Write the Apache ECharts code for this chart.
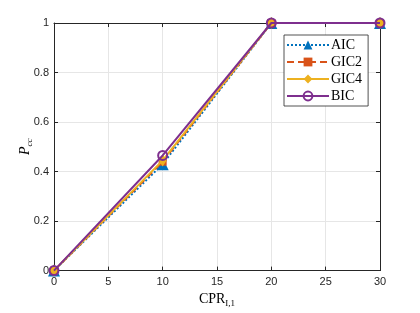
<!DOCTYPE html>
<html><head><meta charset="utf-8">
<script src="https://cdn.jsdelivr.net/npm/echarts@6/dist/echarts.min.js"></script>
<style>html,body{margin:0;padding:0;background:#fff}#c{width:420px;height:313px}</style>
</head><body><div id="c"></div>
<script>
var xValues = [0, 10, 20, 30];
var aic  = [0, 0.43, 1, 1];
var gic2 = [0, 0.44, 1, 1];
var gic4 = [0, 0.445, 1, 1];
var bic  = [0, 0.465, 1, 1];
var xTicks = [0, 5, 10, 15, 20, 25, 30];
var yTicks = [0, 0.2, 0.4, 0.6, 0.8, 1];

function pairs(v){ return xValues.map(function(x,i){ return [x, v[i]]; }); }
var tickFont = {fontFamily:'Liberation Sans, Arial, sans-serif', fontSize:11, color:'#262626'};
var serif = 'Liberation Serif, DejaVu Serif, serif';
var chart = echarts.init(document.getElementById('c'), null, {renderer:'canvas'});
var axisLineStyle = {color:'#262626', width:1};
chart.setOption({
  animation:false,
  backgroundColor:'#fff',
  grid:{left:54, right:40, top:23, bottom:34, show:false},
  legend:{
    show:true, orient:'vertical', left:284, top:35,
    itemWidth:42, itemHeight:11, itemGap:3,
    backgroundColor:'#fff', borderColor:'#262626', borderWidth:0.8, borderRadius:0,
    padding:[3,6,3,2],
    textStyle:{fontFamily:serif, fontSize:14, color:'#000', padding:[0,0,0,-3]},
    data:['AIC','GIC2','GIC4','BIC']
  },
  xAxis:[{
    type:'value', min:0, max:30, interval:5, position:'bottom',
    name:'{a|CPR}{b|I,1}', nameLocation:'middle', nameGap:17,
    nameTextStyle:{rich:{a:{fontFamily:serif, fontSize:14, color:'#000'}, b:{fontFamily:serif, fontSize:9, color:'#000', padding:[8,0,0,0]}}},
    axisLine:{show:true, lineStyle:axisLineStyle},
    axisTick:{show:true, inside:true, length:4, lineStyle:axisLineStyle},
    axisLabel:Object.assign({margin:6}, tickFont),
    splitLine:{show:true, lineStyle:{color:'#e6e6e6', width:1}}
  },{
    type:'value', min:0, max:30, interval:5, position:'top',
    axisLine:{show:true, onZero:false, lineStyle:axisLineStyle},
    axisTick:{show:true, inside:true, length:4, lineStyle:axisLineStyle},
    axisLabel:{show:false}, splitLine:{show:false}
  }],
  yAxis:[{
    type:'value', min:0, max:1, interval:0.2, position:'left',
    name:'{a|P}{b|cc}', nameLocation:'middle', nameGap:20, nameRotate:90, nameMoveOverlap:false,
    nameTextStyle:{rich:{a:{fontFamily:serif, fontStyle:'italic', fontSize:14, color:'#000'}, b:{fontFamily:serif, fontStyle:'italic', fontSize:9, color:'#000', padding:[8,0,0,0]}}},
    axisLine:{show:true, lineStyle:axisLineStyle},
    axisTick:{show:true, inside:true, length:4, lineStyle:axisLineStyle},
    axisLabel:Object.assign({margin:5, formatter:function(v){return String(+v.toFixed(1));}}, tickFont),
    splitLine:{show:true, lineStyle:{color:'#e6e6e6', width:1}}
  },{
    type:'value', min:0, max:1, interval:0.2, position:'right',
    axisLine:{show:true, onZero:false, lineStyle:axisLineStyle},
    axisTick:{show:true, inside:true, length:4, lineStyle:axisLineStyle},
    axisLabel:{show:false}, splitLine:{show:false}
  }],
  series:[
    {name:'AIC', type:'line', data:pairs(aic), symbol:'triangle', symbolSize:12,
     lineStyle:{color:'#0072BD', width:2, type:[2,2]}, itemStyle:{color:'#0072BD'}, z:2},
    {name:'GIC2', type:'line', data:pairs(gic2), symbol:'rect', symbolSize:8,
     lineStyle:{color:'#D95319', width:2, type:[7,4]}, itemStyle:{color:'#D95319'}, z:3},
    {name:'GIC4', type:'line', data:pairs(gic4), symbol:'diamond', symbolSize:[8,12],
     lineStyle:{color:'#EDB120', width:2}, itemStyle:{color:'#EDB120'}, z:4},
    {name:'BIC', type:'line', data:pairs(bic), symbol:'circle', symbolSize:9,
     lineStyle:{color:'#7E2F8E', width:2}, itemStyle:{color:'rgba(255,255,255,0)', borderColor:'#7E2F8E', borderWidth:2}, z:5}
  ]
});
</script></body></html>
